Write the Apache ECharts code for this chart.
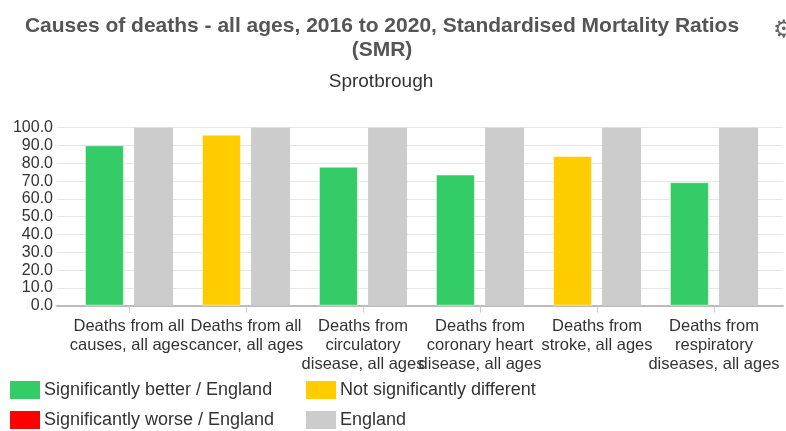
<!DOCTYPE html>
<html>
<head>
<meta charset="utf-8">
<script src="https://cdn.jsdelivr.net/npm/echarts@6/dist/echarts.min.js"></script>
<style>
  html, body { margin: 0; padding: 0; background: #fff; }
  #chart { width: 786px; height: 431px; }
</style>
</head>
<body>
<div id="chart"></div>
<script>
// Causes of death categories (line breaks as shown under the axis)
const categories = [
  'Deaths from all\ncauses, all ages',
  'Deaths from all\ncancer, all ages',
  'Deaths from\ncirculatory\ndisease, all ages',
  'Deaths from\ncoronary heart\ndisease, all ages',
  'Deaths from\nstroke, all ages',
  'Deaths from\nrespiratory\ndiseases, all ages'
];
// Sprotbrough SMR values and their significance compared with England
const smrValues = [90.1, 96.1, 78.1, 73.7, 84.1, 69.4];
const significance = ['better', 'similar', 'better', 'better', 'similar', 'better'];
// England reference SMR
const englandValues = [100, 100, 100, 100, 100, 100];
// Y axis ticks
const yTicks = [0, 10, 20, 30, 40, 50, 60, 70, 80, 90, 100];

const NAME_BETTER = 'Significantly better / England';
const NAME_SIMILAR = 'Not significantly different';
const NAME_WORSE = 'Significantly worse / England';
const NAME_ENGLAND = 'England';

const COLORS = { better: '#33cc66', similar: '#ffcc00', worse: '#ff0000', england: '#cccccc' };

function pick(kind) {
  return smrValues.map((v, i) => significance[i] === kind ? v : '-');
}

const FONT = '"Liberation Sans", Arial, sans-serif';
const yMin = yTicks[0], yMax = yTicks[yTicks.length - 1], yStep = yTicks[1] - yTicks[0];

const chart = echarts.init(document.getElementById('chart'), null, { renderer: 'canvas' });

const barCommon = {
  type: 'bar',
  xAxisIndex: 0,
  yAxisIndex: 0,
  barWidth: 39,
  barGap: '26%',
  itemStyle: { borderColor: 'rgba(255,255,255,0.5)', borderWidth: 1 }
};

const legendCommon = {
  orient: 'vertical',
  top: 381,
  padding: 0,
  itemWidth: 30,
  itemHeight: 18,
  itemGap: 12,
  icon: 'rect',
  selectedMode: false,
  itemStyle: { borderWidth: 0 },
  textStyle: { fontFamily: FONT, fontSize: 18, color: '#333333', padding: [0, 0, 0, -1] }
};

chart.setOption({
  animation: false,
  backgroundColor: '#ffffff',
  textStyle: { fontFamily: FONT },
  title: [
    {
      text: 'Causes of deaths - all ages, 2016 to 2020, Standardised Mortality Ratios\n(SMR)',
      left: 382,
      textAlign: 'center',
      top: 14,
      padding: 0,
      textStyle: { fontFamily: FONT, fontSize: 21, fontWeight: 'bold', color: '#555555', lineHeight: 24 }
    },
    {
      text: 'Sprotbrough',
      left: 381,
      textAlign: 'center',
      top: 71,
      padding: 0,
      textStyle: { fontFamily: FONT, fontSize: 19, fontWeight: 'normal', color: '#333333', lineHeight: 22 }
    }
  ],
  graphic: [
    {
      type: 'text',
      left: 773,
      top: 19,
      style: { text: '\u2699', fontSize: 24, fill: '#666666', fontFamily: '"DejaVu Sans", sans-serif' }
    }
  ],
  legend: [
    Object.assign({}, legendCommon, { left: 10, data: [NAME_BETTER, NAME_WORSE] }),
    Object.assign({}, legendCommon, { left: 306, data: [NAME_SIMILAR, NAME_ENGLAND] })
  ],
  grid: [
    // bar area
    { left: 70.5, right: 13.5, top: 127.7, bottom: 125.3, containLabel: false },
    // full-width area carrying gridlines, baseline and y labels
    { left: 57, right: 3, top: 127.7, bottom: 125.3, containLabel: false }
  ],
  xAxis: [
    {
      type: 'category',
      gridIndex: 0,
      data: categories,
      axisLine: { show: false },
      axisTick: { show: true, alignWithLabel: true, length: 7, lineStyle: { color: '#cccccc', width: 1 } },
      axisLabel: {
        interval: 0,
        margin: 11,
        fontFamily: FONT,
        fontSize: 16.5,
        color: '#333333',
        lineHeight: 19
      },
      z: 5
    },
    {
      type: 'category',
      gridIndex: 1,
      data: categories,
      axisLine: { show: true, lineStyle: { color: '#bbbbbb', width: 2 } },
      axisTick: { show: false },
      axisLabel: { show: false },
      splitLine: { show: false }
    }
  ],
  yAxis: [
    {
      type: 'value',
      gridIndex: 0,
      min: yMin,
      max: yMax,
      interval: yStep,
      show: false
    },
    {
      type: 'value',
      gridIndex: 1,
      min: yMin,
      max: yMax,
      interval: yStep,
      axisLine: { show: false },
      axisTick: { show: false },
      splitLine: { show: true, lineStyle: { color: '#e6e6e6', width: 1 } },
      axisLabel: {
        margin: 4,
        fontFamily: FONT,
        fontSize: 16,
        color: '#333333',
        formatter: v => v.toFixed(1)
      }
    }
  ],
  series: [
    Object.assign({}, barCommon, {
      name: NAME_BETTER, stack: 'area', color: COLORS.better, data: pick('better')
    }),
    Object.assign({}, barCommon, {
      name: NAME_SIMILAR, stack: 'area', color: COLORS.similar, data: pick('similar')
    }),
    Object.assign({}, barCommon, {
      name: NAME_WORSE, stack: 'area', color: COLORS.worse, data: pick('worse')
    }),
    Object.assign({}, barCommon, {
      name: NAME_ENGLAND, color: COLORS.england, data: englandValues,
      itemStyle: { borderWidth: 0 }
    })
  ]
});
</script>
</body>
</html>
